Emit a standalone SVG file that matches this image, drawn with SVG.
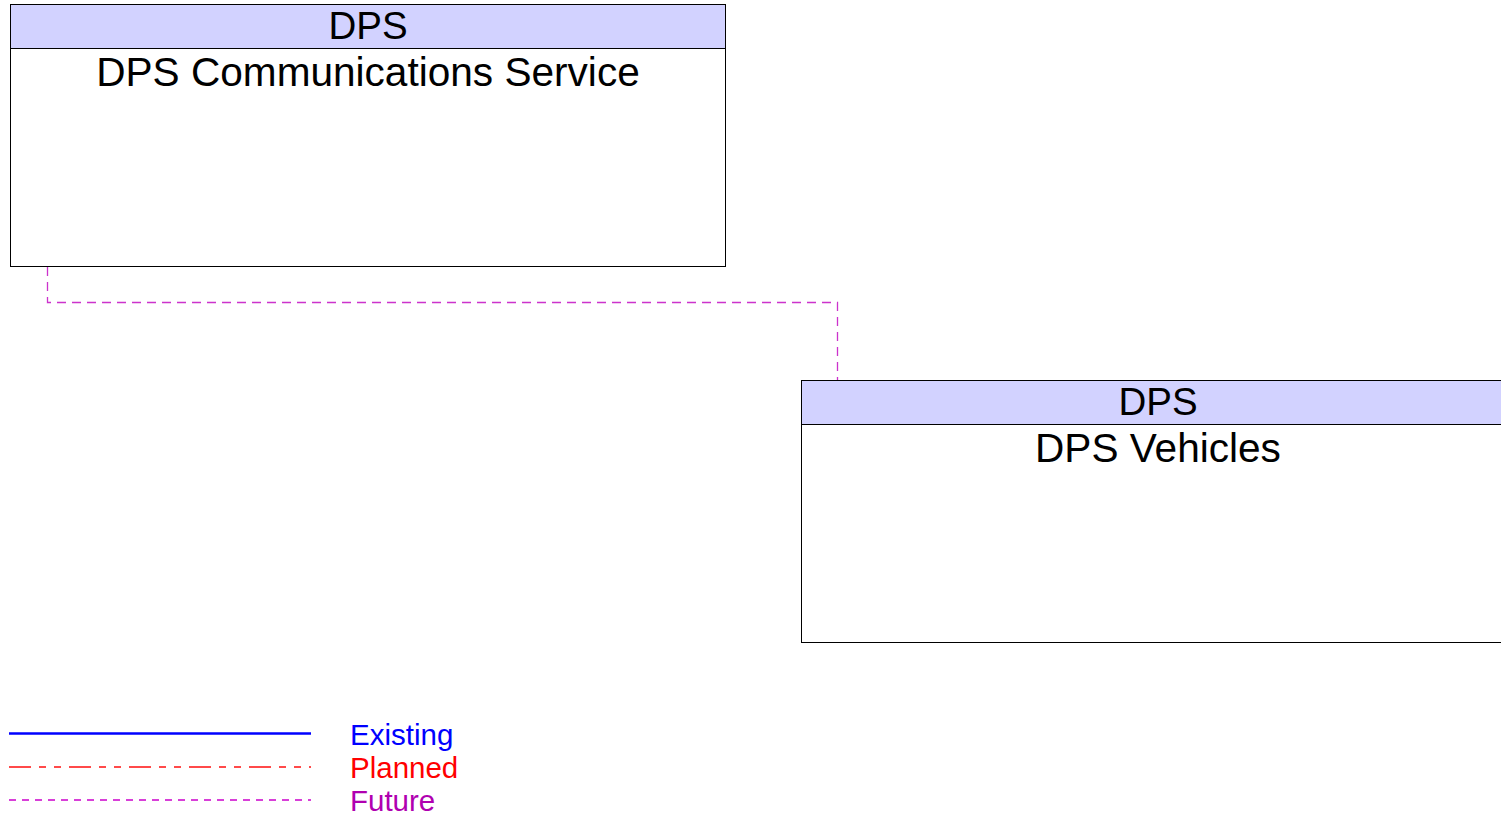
<svg xmlns="http://www.w3.org/2000/svg" width="1501" height="817" viewBox="0 0 1501 817">
<style>
.box{fill:#fff;stroke:#000;stroke-width:1}
.hdr{fill:#d2d2ff;stroke:#000;stroke-width:1}
.t{font-family:"Liberation Sans",Arial,sans-serif;fill:#000;text-anchor:middle}
.h{font-size:38.5px}
.n{font-size:40.6px}
.lg{font-family:"Liberation Sans",Arial,sans-serif;font-size:29.5px}
</style>
<rect width="1501" height="817" fill="#fff"/>
<g id="connectors">
<polyline points="47.5,267 47.5,302.5 837.5,302.5 837.5,380" fill="none" stroke="#cc33cc" stroke-width="1.3" stroke-dasharray="9,6"/>
</g>
<g id="node-dps-comm">
<rect class="box" x="10.5" y="4.5" width="715" height="262"/>
<rect class="hdr" x="10.5" y="4.5" width="715" height="44"/>
<text class="t h" x="368" y="39">DPS</text>
<text class="t n" x="368" y="86">DPS Communications Service</text>
</g>
<g id="node-dps-vehicles">
<rect class="box" x="801.5" y="380.5" width="715" height="262"/>
<rect class="hdr" x="801.5" y="380.5" width="715" height="44"/>
<text class="t h" x="1158" y="415">DPS</text>
<text class="t n" x="1158" y="462">DPS Vehicles</text>
</g>
<g id="legend">
<line x1="9" y1="733.5" x2="311" y2="733.5" stroke="#00f" stroke-width="2.5"/>
<line x1="9" y1="767" x2="311" y2="767" stroke="#ff4a4a" stroke-width="2" stroke-dasharray="22,8,7,8,7,8"/>
<line x1="9" y1="800" x2="311" y2="800" stroke="#c0c" stroke-width="1.6" stroke-dasharray="7,6"/>
<text class="lg" x="350" y="745" fill="#00f">Existing</text>
<text class="lg" x="350" y="778" fill="#f00">Planned</text>
<text class="lg" x="350" y="811" fill="#b000b0">Future</text>
</g>
</svg>
